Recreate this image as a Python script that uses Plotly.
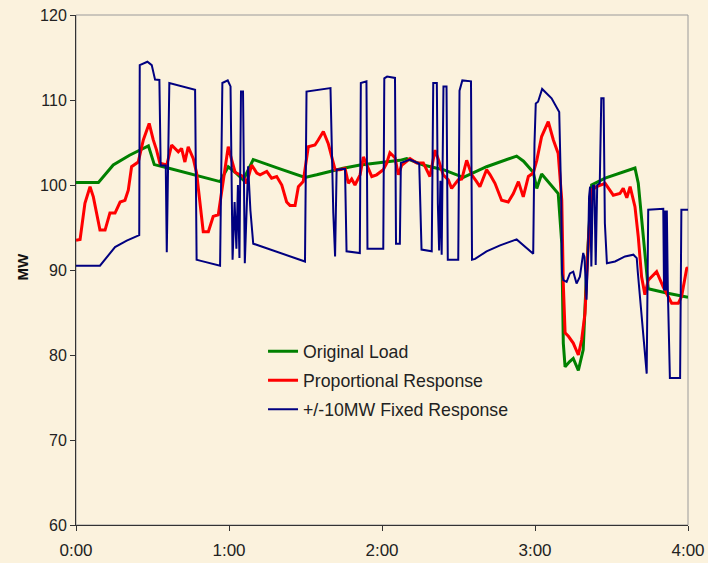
import plotly.graph_objects as go

# ---- data (time in minutes from 0:00, load in MW) ----
green_t = [0, 8.8, 14.6, 21, 28.4, 30.7, 34.2, 45, 56.5, 59.7, 62.4, 65.6, 69.5, 80, 89.8, 94.4,
           104.8, 111.4, 119.2, 127, 129.7, 136.2, 144, 151.9, 161, 172.8, 175.5, 179.3, 180.7,
           182.6, 189.1, 190.5, 191.1, 191.8, 193.5, 195, 197, 198.9, 200.3, 202.2, 207.5, 219.2,
           220.5, 222.5, 224.4, 231.6, 240]
green_v = [100.3, 100.3, 102.35, 103.5, 104.6, 102.4, 102.15, 101.3, 100.4, 102.15, 101.5, 100.6,
           103.0, 101.9, 100.9, 101.2, 101.96, 102.35, 102.6, 102.9, 103.1, 102.35, 101.8, 100.9,
           102.15, 103.4, 102.8, 101.5, 99.6, 101.3, 99.0, 93.1, 81.4, 78.6, 79.2, 79.6, 78.2, 80.6,
           90.4, 100, 100.8, 102, 100.2, 93.9, 87.8, 87.3, 86.8]

red_t = [0, 1.6, 3.5, 5.5, 6.8, 9.4, 11.4, 13.3, 15.3, 17.3, 19.2, 20.5, 21.8, 24.4, 26.4, 28.7,
         30.3, 31.6, 32.9, 35.6, 37.5, 40.1, 41.4, 42.7, 44, 46, 47.3, 48.6, 49.9, 51.9, 53.8, 55.8,
         57.8, 59.7, 61.1, 62.4, 65.6, 66.9, 68.9, 70.9, 72.2, 74.8, 76.7, 78.7, 80.7, 82.6, 83.9,
         85.9, 87.2, 89.1, 91.1, 93.7, 95, 97, 98.9, 100.3, 101.6, 103.5, 105.5, 106.8, 108.1,
         109.4, 111.4, 112.7, 114, 116, 117.9, 120.5, 121.8, 123.1, 125.1, 126.4, 127.7, 131,
         133.6, 136.2, 138.8, 140.8, 142.1, 144, 146, 147.3, 149.9, 151.3, 153.2, 155.2, 157.1,
         158.4, 161, 162.4, 164.3, 166.9, 169.5, 171.5, 173.5, 175.4, 177.4, 179.3, 180.7, 182.6,
         185.2, 187.2, 189.1, 190.5, 191.1, 191.8, 193.1, 195, 197, 198.3, 199.6, 200.9, 202.2,
         204.2, 207.5, 210.7, 213.3, 214.6, 216, 217.3, 219.2, 220.5, 221.8, 223.1, 224.4, 225.8,
         227.7, 230.3, 231.6, 233.6, 236.2, 237.5, 239.5, 240]
red_v = [93.5, 93.6, 97.85, 99.8, 98.6, 94.7, 94.7, 96.7, 96.7, 98.0, 98.2, 99.4, 102.15, 102.7,
         105.3, 107.25, 105.3, 104.1, 102.55, 102.35, 104.7, 103.9, 104.3, 102.7, 104.5, 103.1,
         101.4, 98.2, 94.5, 94.5, 96.3, 96.5, 100.8, 104.5, 102.9, 101.5, 101, 100.2, 102.35, 101.4,
         101.2, 101.6, 100.8, 101, 100, 98.0, 97.6, 97.6, 99.8, 100.4, 104.5, 104.7, 105.3, 106.3,
         104.9, 103.1, 101.8, 101.8, 101.96, 100.2, 100.7, 100, 101.2, 103.3, 102.35, 101, 101.2,
         101.8, 102.55, 103.8, 103.2, 101.2, 102.3, 103.1, 102.6, 102.6, 101, 104.1, 103, 101.2,
         100.6, 99.6, 100.6, 100.7, 102.9, 101.2, 100.4, 99.8, 101.8, 101.2, 100.2, 98.2, 98.0, 99,
         100.4, 98.6, 101, 101.4, 102.9, 105.7, 107.45, 105.3, 103.7, 98.2, 88.4, 82.6, 82.2, 81.4,
         80, 81.8, 84.9, 93.1, 99.4, 99.8, 100.2, 98.8, 99.0, 99.6, 98.5, 99.8, 97.45, 93.9, 89.2,
         87.1, 88.8, 89.2, 89.8, 88.0, 87.25, 86.1, 86.1, 86.9, 90.2, 90.3]

blue_t = [0, 9.4, 15.3, 19.9, 24.8, 25.0, 28, 29.7, 31, 32.7, 33.2, 35.2, 35.6, 36.0, 36.6, 46.7,
          47.3, 48.6, 56.5, 57.4, 59.5, 60.6, 61.4, 62.2, 62.9, 63.5, 64.1, 64.7, 65.5, 66.2, 67.5,
          68.4, 69.5, 89.8, 90.4, 99.8, 100.9, 101.6, 102.2, 105.5, 106.1, 111.3, 111.7, 113.9,
          114.3, 120.5, 120.9, 122, 125.1, 125.5, 127, 127.4, 131, 134.6, 135.0, 135.5, 139.5,
          140.1, 141.5, 141.9, 142.4, 142.9, 143.4, 144.1, 145.3, 145.8, 149.9, 150.4, 151.5, 154.9,
          155.3, 156.5, 161, 166.3, 172.8, 179.3, 179.8, 180.3, 181.2, 182.8, 186.5, 189.5, 190.3,
          190.6, 191.1, 192.4, 193.7, 195, 196.3, 197.6, 198.9, 199.4, 200.2, 200.8, 201.2, 201.6,
          202.1, 202.7, 203.3, 203.8, 204.4, 205.4, 206.0, 206.9, 207.4, 208.2, 211.4, 215.3, 218.6,
          219.9, 220.3, 222, 223.8, 224.4, 230.3, 230.6, 231.0, 231.3, 231.7, 232.1, 232.9, 236.9,
          237.4, 240]
blue_v = [90.5, 90.5, 92.7, 93.45, 94.1, 114.1, 114.5, 114.1, 112.4, 112.35, 102.3, 102.3, 92.1,
          102.2, 112.0, 111.2, 91.2, 91.1, 90.5, 112.0, 112.3, 111.6, 91.2, 98, 92.5, 100, 91.4,
          111, 111, 90.8, 102.2, 97, 93.1, 91.0, 111.0, 111.4, 96.7, 91.6, 101.8, 101.9, 92.2, 92.0,
          112.0, 112.2, 92.5, 92.5, 112.55, 112.75, 112.6, 93.1, 93.1, 102.6, 103.0, 102.5, 97.6,
          92.4, 92.2, 112, 112, 97.8, 92.3, 100.5, 91.8, 111.6, 111.6, 91.2, 91.2, 111.1, 112.3,
          112.2, 91.2, 91.3, 92.2, 92.9, 93.6, 91.9, 104.9, 109.6, 109.8, 111.3, 110.2, 108.6, 98,
          89.6, 88.8, 88.6, 89.6, 89.8, 88.4, 89.2, 92.0, 91.5, 86.5, 92, 98.6, 99.8, 90.4, 99.9,
          99.9, 90.6, 100.0, 100.2, 110.2, 110.2, 95.5, 90.8, 91.0, 91.6, 91.8, 91.4, 89.8, 83.5,
          77.8, 97.1, 97.2, 87.6, 97.0, 87.6, 97.0, 87.6, 77.3, 77.3, 97.1, 97.1]

series_names = ["Original Load", "Proportional Response", "+/-10MW Fixed Response"]
x_tick_vals = [0, 60, 120, 180, 240]
x_tick_text = ["0:00", "1:00", "2:00", "3:00", "4:00"]
y_tick_vals = [60, 70, 80, 90, 100, 110, 120]
y_title = "MW"

BG = "#FBF2DD"
FONT = "Liberation Sans, Arial, sans-serif"

fig = go.Figure()
fig.add_trace(go.Scatter(x=green_t, y=green_v, mode="lines", name=series_names[0],
                         legendgroup="g1", line=dict(color="#008000", width=3)))
fig.add_trace(go.Scatter(x=red_t, y=red_v, mode="lines", name=series_names[1],
                         legendgroup="g2", line=dict(color="#FF0000", width=3)))
fig.add_trace(go.Scatter(x=blue_t, y=blue_v, mode="lines", name=series_names[2],
                         legendgroup="g3", line=dict(color="#000080", width=2)))

fig.update_layout(
    width=708, height=563,
    margin=dict(l=76, r=20, t=15, b=38, autoexpand=False),
    paper_bgcolor=BG, plot_bgcolor=BG,
    font=dict(family=FONT, size=16, color="#222222"),
    showlegend=True,
    legend=dict(x=0.3056, y=0.376, xanchor="left", yanchor="top",
                bgcolor="rgba(0,0,0,0)", borderwidth=0,
                font=dict(family=FONT, size=17.7, color="#222222"),
                tracegroupgap=3, traceorder="grouped"),
    xaxis=dict(range=[0, 240], tickmode="array", tickvals=x_tick_vals, ticktext=x_tick_text,
               showgrid=False, zeroline=False, showline=True, linecolor="#333333", linewidth=1,
               ticks="outside", ticklen=5, tickcolor="#333333", ticklabelstandoff=5,
               tickfont=dict(family=FONT, size=17, color="#222222")),
    yaxis=dict(range=[60, 120], tickmode="array", tickvals=y_tick_vals,
               showgrid=False, zeroline=False, showline=True, linecolor="#333333", linewidth=1,
               ticks="outside", ticklen=5, tickcolor="#333333",
               tickfont=dict(family=FONT, size=16, color="#222222")),
    shapes=[dict(type="rect", xref="paper", yref="paper", x0=0, x1=1, y0=0, y1=1,
                 line=dict(color="#9A9A9A", width=1), layer="below")],
    annotations=[dict(text="<b>" + y_title + "</b>", xref="paper", yref="paper",
                      x=-0.088, y=0.505, xanchor="center", yanchor="middle",
                      showarrow=False, textangle=-90,
                      font=dict(family=FONT, size=15, color="#111111"))],
)

fig.write_html(
    "out.html",
    config={"displayModeBar": False},
    post_script="document.body.style.margin='0';document.body.style.padding='0';"
                "document.body.style.background='" + BG + "';",
)
